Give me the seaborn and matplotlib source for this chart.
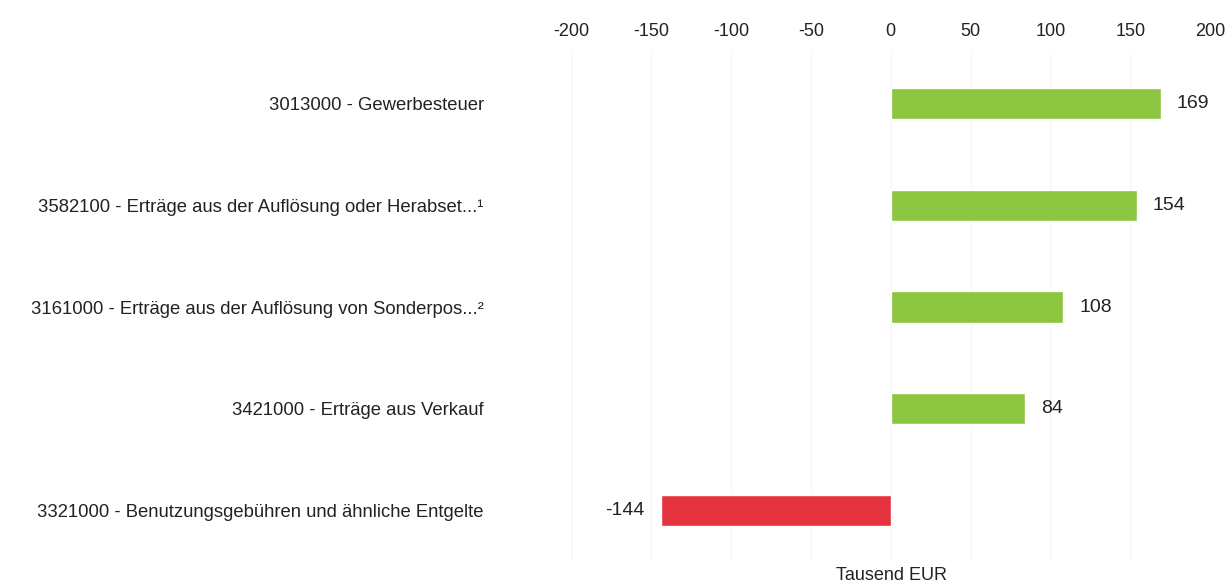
import matplotlib
matplotlib.use("Agg")
import matplotlib.pyplot as plt
import seaborn as sns
import pandas as pd

categories = [
    "3013000 - Gewerbesteuer",
    "3582100 - Erträge aus der Auflösung oder Herabset...\u00b9",
    "3161000 - Erträge aus der Auflösung von Sonderpos...\u00b2",
    "3421000 - Erträge aus Verkauf",
    "3321000 - Benutzungsgebühren und ähnliche Entgelte",
]
values = [169, 154, 108, 84, -144]
x_ticks = [-200, -150, -100, -50, 0, 50, 100, 150, 200]
x_label = "Tausend EUR"

GREEN = "#8cc540"
RED = "#e5323f"

df = pd.DataFrame({"cat": categories, "val": values})
df["sign"] = ["pos" if v >= 0 else "neg" for v in values]

sns.set_theme(style="white")
plt.rcParams["font.family"] = ["Liberation Sans", "DejaVu Sans"]

fig = plt.figure(figsize=(12.26, 5.87), dpi=100)
ax = fig.add_axes([0.466, 0.044, 0.521, 0.866])

sns.barplot(data=df, x="val", y="cat", hue="sign", orient="h",
            palette={"pos": GREEN, "neg": RED}, width=0.31,
            legend=False, ax=ax, saturation=1)

ax.set_xlim(-200, 200)
ax.set_ylim(4.5, -0.5)
ax.set_xticks(x_ticks)
ax.set_xticklabels([str(t) for t in x_ticks], fontsize=13, color="#222222")
ax.xaxis.tick_top()
ax.tick_params(axis="x", length=0, pad=9)
ax.tick_params(axis="y", length=0, pad=63, labelsize=13.3, labelcolor="#222222")
ax.set_xlabel("")
ax.set_ylabel("")
for s in ax.spines.values():
    s.set_visible(False)
ax.grid(axis="x", color="#f5f5f5", linewidth=0.8)
ax.set_axisbelow(True)

for i, v in enumerate(values):
    if v >= 0:
        ax.text(v + 10, i, str(v), va="center", ha="left", fontsize=14, color="#222222")
    else:
        ax.text(v - 10, i, str(v), va="center", ha="right", fontsize=14, color="#222222")

fig.text(0.727, 0.02, x_label, ha="center", va="center", fontsize=13, color="#222222")

fig.savefig("out.png", dpi=100, facecolor="white")
